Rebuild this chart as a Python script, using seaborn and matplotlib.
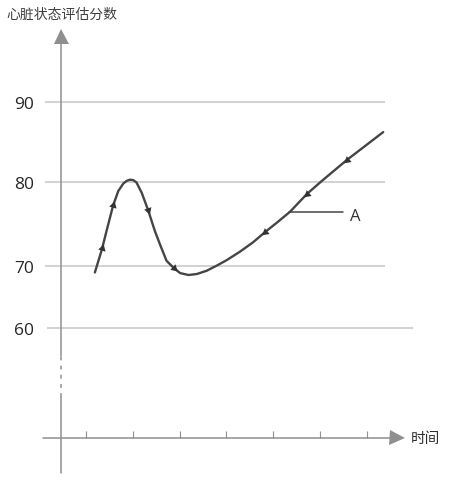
import numpy as np
import matplotlib
matplotlib.use('Agg')
import matplotlib.pyplot as plt
import seaborn as sns

# curve (time in tick units, score)
time_pts = [1.19, 1.34, 1.44, 1.58, 1.69, 1.80, 1.87, 1.94, 2.01, 2.08, 2.19, 2.33, 2.47,
            2.58, 2.72, 2.86, 3.01, 3.19, 3.37, 3.58, 3.79, 4.01, 4.29, 4.57, 4.82, 5.07,
            5.36, 5.72, 6.04, 6.57, 7.35]
score_pts = [69.0, 72.0, 74.2, 77.2, 78.9, 79.8, 80.1, 80.25, 80.2, 79.9, 78.7, 76.6, 74.2,
             72.6, 70.66, 69.84, 68.9, 68.58, 68.75, 69.28, 70.07, 70.74, 71.73, 72.84, 74.02,
             75.12, 76.45, 78.55, 80.1, 82.7, 86.2]

# small arrow heads sitting on the curve
arrow_t = [1.34, 1.58, 2.33, 2.88, 4.82, 5.72, 6.58]
arrow_s = [72.2, 77.2, 76.6, 69.8, 74.0, 78.5, 82.7]
arrow_rot = [-16, -16, 199, 228, 130, 130, 130]

grid_vals = [60, 70, 80, 90]
grid_labels = ['60', '70', '80', '90']
time_ticks = [1, 2, 3, 4, 5, 6, 7]

label_a = 'A'
label_a_t = 5.33
label_a_s = 76.4

sns.set_style('white')
plt.rcParams['font.family'] = ['Open Sans', 'Noto Sans CJK SC', 'DejaVu Sans']

axis_c = '#8f8f8f'
grid_c = '#c9c9c9'
line_c = '#454545'

fig = plt.figure(figsize=(4.5, 4.81), dpi=100)
ax = fig.add_axes([61 / 450, (481 - 439) / 481, (405 - 61) / 450, (439 - 30) / 481])

# the drawing is a sketch, gridlines are not evenly spaced -> piecewise scale
knot_vals = [50, 60, 70, 80, 90, 100]
knot_pix = [-439, -328.7, -267.3, -182.7, -102.7, -30]


def fwd(v):
    return np.interp(v, knot_vals, knot_pix)


def inv(t):
    return np.interp(t, knot_pix, knot_vals)


ax.set_yscale('function', functions=(fwd, inv))
ax.set_ylim(50, 100)
ax.set_xlim(0.466, 7.816)

# gridlines
ax.hlines(grid_vals[1:], 0.124, 7.39, color=grid_c, lw=1.2, clip_on=False, zorder=1)
ax.hlines(grid_vals[0], 0.16, 7.99, color=grid_c, lw=1.2, clip_on=False, zorder=1)

# curve
sns.lineplot(x=time_pts, y=score_pts, sort=False, color=line_c, lw=1.7, ax=ax, zorder=3,
             solid_joinstyle='round', solid_capstyle='round')
for t, s, r in zip(arrow_t, arrow_s, arrow_rot):
    ax.plot(t, s, marker=(3, 0, r), ms=6.3, color='#333333', mew=0, zorder=4)

# leader line + label
ax.plot([label_a_t, 6.485], [label_a_s, label_a_s], color=line_c, lw=1.1, zorder=3)
ax.text(6.64, 75.98, label_a, fontsize=12, color='#333333', va='center', ha='left')

# axes drawn by hand: arrows and the broken y axis
for s in ax.spines.values():
    s.set_visible(False)
tr = ax.transAxes
ax.plot([-0.052, 0.975], [0, 0], transform=tr, color=axis_c, lw=1.1, clip_on=False)
ax.plot(0.978, 0, marker='>', ms=10.8, mew=0, color=axis_c, transform=tr, clip_on=False)
ax.plot([0, 0], [0.2005, 0.97], transform=tr, color=axis_c, lw=1.1, clip_on=False)
ax.plot([0, 0], [0.1002, 0.2005], transform=tr, color=axis_c, lw=1.1,
        linestyle=(0, (2.5, 3.5)), clip_on=False)
ax.plot([0, 0], [-0.0856, 0.1002], transform=tr, color=axis_c, lw=1.1, clip_on=False)
ax.plot(0, 0.9817, marker='^', ms=10.8, mew=0, color=axis_c, transform=tr, clip_on=False)

ax.set_xticks(time_ticks)
ax.set_yticks(grid_vals)
ax.set_yticklabels(grid_labels)
ax.tick_params(axis='x', direction='in', length=5, width=0.8, color=axis_c,
               labelbottom=False, bottom=True)
ax.tick_params(axis='y', length=0, pad=19.4, labelsize=12.5, labelcolor='#262626')
ax.minorticks_off()
ax.set_xlabel('')
ax.set_ylabel('')

fig.text(6 / 450, 1 - 15 / 481, '心脏状态评估分数', fontsize=10, color='#404040', va='center')
fig.text(411 / 450, 1 - 440 / 481, '时间', fontsize=10.5, color='#2e2e2e', va='center')

fig.savefig('out.png', dpi=100)
